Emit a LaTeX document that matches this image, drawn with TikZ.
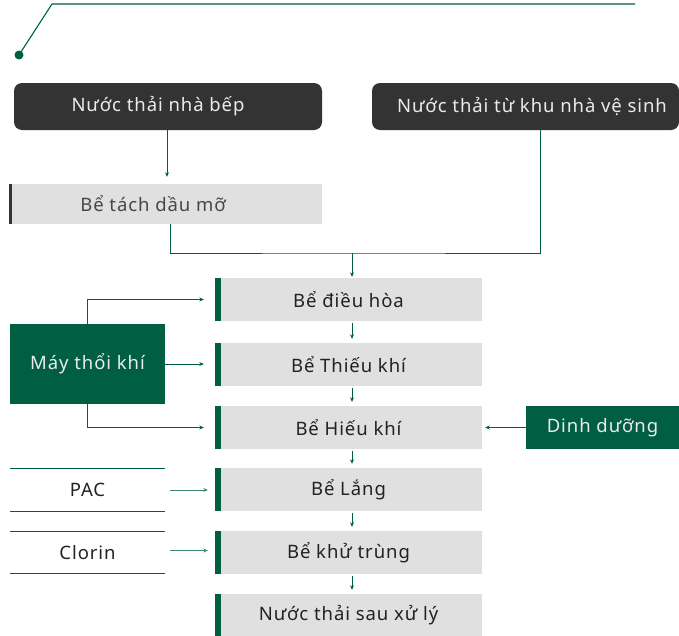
\documentclass[tikz,border=0pt]{standalone}
\usepackage{fontspec}
\setmainfont[LetterSpace=5]{Noto Sans}
\usetikzlibrary{arrows.meta}
\definecolor{dg}{HTML}{005E42}
\definecolor{lgr}{HTML}{3F8A6E}
\definecolor{dk}{HTML}{333333}
\definecolor{lg}{HTML}{E0E0E0}
\definecolor{tx}{HTML}{222222}
\begin{document}
\begin{tikzpicture}[x=1pt,y=-1pt,
  font=\fontsize{18.5}{21}\selectfont,
  darkbox/.style={fill=dk, rounded corners=8pt, text=white!92!black, minimum height=47pt, inner sep=0pt},
  flowbox/.style={fill=lg, minimum width=267pt, minimum height=43pt, inner sep=0pt, text=tx,
    path picture={\fill[dg] (path picture bounding box.north west) rectangle ([xshift=6pt]path picture bounding box.south west);}},
  greenbox/.style={fill=dg, text=white!92!black, inner sep=0pt},
  linebox/.style={minimum width=155pt, minimum height=42pt, inner sep=0pt, text=tx},
  conn/.style={draw=dg, line width=0.8pt, -{Stealth[length=4.5pt,width=4pt]}},
  plain/.style={draw=dg, line width=0.8pt},
]
\path[use as bounding box] (0,0) rectangle (679,635);

% top decoration
\node[circle, fill=dg, minimum size=9pt, inner sep=0pt] (dot) at (19,55) {};
\coordinate (tl) at (52,4);
\coordinate (tr) at (635,4);
\draw[dg, line width=1.1pt] (dot.center) -- (tl) -- (tr);

% sources
\node[darkbox, minimum width=308pt] (kitchen) at (168,106.5) {\hspace*{-20pt}Nước thải nhà bếp};
\node[darkbox, minimum width=307pt] (wc) at (525.5,106.5) {\hspace*{13pt}Nước thải từ khu nhà vệ sinh};

% grease trap
\node[fill=lg, minimum width=313pt, minimum height=40pt, inner sep=0pt, text=dk!90!white,
  path picture={\fill[dk] (path picture bounding box.north west) rectangle ([xshift=3pt]path picture bounding box.south west);}]
  (grease) at (165.5,204) {\hspace*{-25pt}Bể tách dầu mỡ};

% main column
\node[flowbox] (dieuhoa) at (348.5,299.5) {Bể điều hòa};
\node[flowbox] (thieukhi) at (348.5,364.5) {Bể Thiếu khí};
\node[flowbox] (hieukhi) at (348.5,427.5) {Bể Hiếu khí};
\node[flowbox] (lang) at (348.5,489.5) {Bể Lắng};
\node[flowbox] (khutrung) at (348.5,552.5) {Bể khử trùng};
\node[flowbox, minimum height=42pt] (sauxuly) at (348.5,615) {Nước thải sau xử lý};

% side inputs
\node[greenbox, minimum width=155pt, minimum height=80pt] (blower) at (87.5,364) {Máy thổi khí};
\node[greenbox, minimum width=153pt, minimum height=43pt] (dinhduong) at (602.5,427.5) {Dinh dưỡng};
\node[linebox] (pac) at (87.5,490) {PAC};
\node[linebox, minimum height=41pt] (clorin) at (87.5,552.5) {Clorin};
\draw[plain] (pac.north west) -- (pac.north east);
\draw[plain] (pac.south west) -- (pac.south east);
\draw[plain] (clorin.north west) -- (clorin.north east);
\draw[plain] (clorin.south west) -- (clorin.south east);

% connectors at top
\draw[conn, shorten >=7pt] ([xshift=-1pt]kitchen.south) -- ([xshift=-1pt]kitchen.south |- grease.north);
\coordinate (merge) at (352,253);
\draw[plain] ([xshift=4.5pt]grease.south) |- (merge) -| ([xshift=14.5pt]wc.south);
\draw[conn, shorten >=1pt] (merge) -- (merge |- dieuhoa.north);

% main column arrows
\draw[conn, shorten <=1.5pt, shorten >=4pt] ([xshift=3.5pt]dieuhoa.south) -- ([xshift=3.5pt]thieukhi.north);
\draw[conn, shorten <=1.5pt, shorten >=4pt] ([xshift=3.5pt]thieukhi.south) -- ([xshift=3.5pt]hieukhi.north);
\draw[conn, shorten <=1.5pt, shorten >=4pt] ([xshift=3.5pt]hieukhi.south) -- ([xshift=3.5pt]lang.north);
\draw[conn, shorten <=1.5pt, shorten >=4pt] ([xshift=3.5pt]lang.south) -- ([xshift=3.5pt]khutrung.north);
\draw[conn, shorten <=1.5pt, shorten >=4pt] ([xshift=3.5pt]khutrung.south) -- ([xshift=3.5pt]sauxuly.north);

% blower arrows
\draw[conn, shorten >=11pt] (blower.north) |- (dieuhoa.west);
\draw[conn, shorten >=11pt] (blower.east) -- (blower.east -| thieukhi.west);
\draw[conn, shorten >=11pt] (blower.south) |- (hieukhi.west);

% nutrient
\draw[conn, shorten >=3pt] (dinhduong.west) -- (hieukhi.east);

% chemicals
\draw[conn, draw=lgr, shorten <=5pt, shorten >=7pt] (pac.east) -- (pac.east -| lang.west);
\draw[conn, draw=lgr, shorten <=5pt, shorten >=7pt] ([yshift=2pt]clorin.east) -- ([yshift=2pt]clorin.east -| khutrung.west);
\end{tikzpicture}
\end{document}
